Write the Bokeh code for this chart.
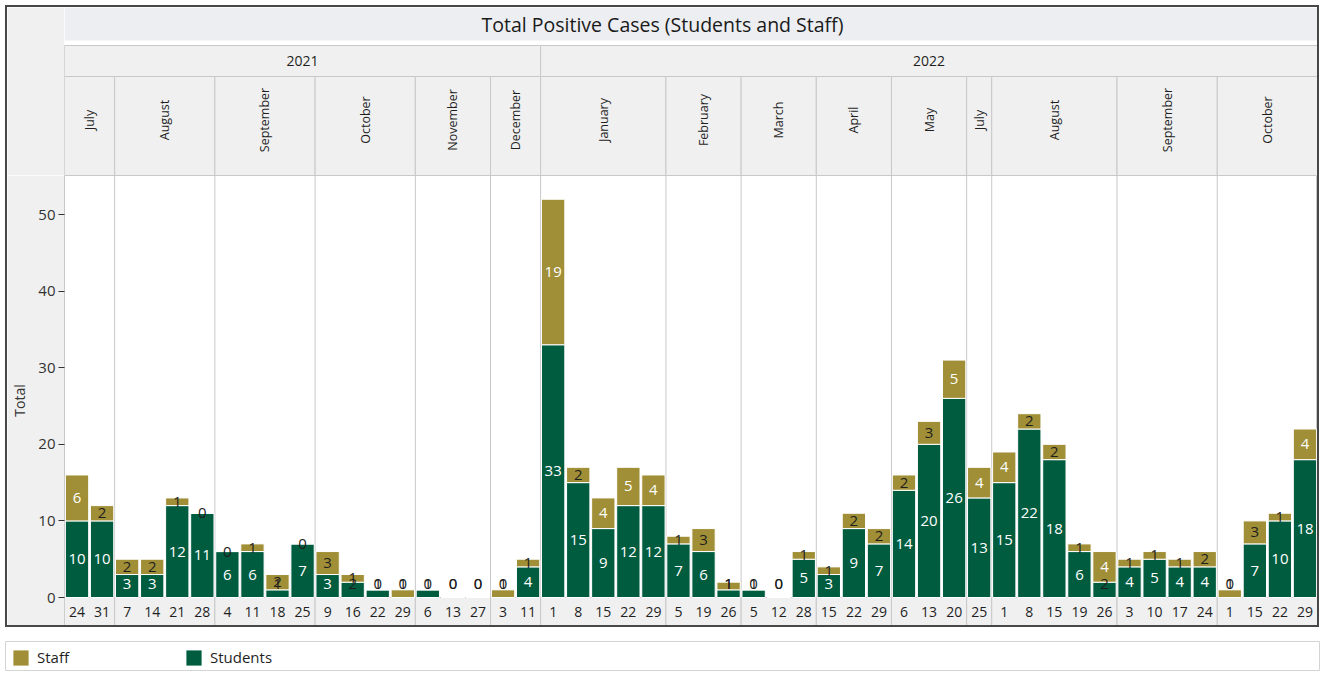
import math
from bokeh.plotting import figure
from bokeh.layouts import column
from bokeh.models import ColumnDataSource, Range1d, FixedTicker, Legend, LegendItem
from bokeh.core.properties import value
from bokeh.embed import file_html
from bokeh.resources import INLINE

# ---------------- data ----------------
title_text = "Total Positive Cases (Students and Staff)"
y_label = "Total"
y_ticks = [0, 10, 20, 30, 40, 50]
series_names = ["Staff", "Students"]
series_colors = {"Staff": "#a08f36", "Students": "#005c3f"}

years = ["2021"] * 19 + ["2022"] * 31
months = (["July"] * 2 + ["August"] * 4 + ["September"] * 4 + ["October"] * 4
          + ["November"] * 3 + ["December"] * 2
          + ["January"] * 5 + ["February"] * 3 + ["March"] * 3 + ["April"] * 3
          + ["May"] * 3 + ["July"] * 1 + ["August"] * 5 + ["September"] * 4
          + ["October"] * 4)
days = ["24", "31", "7", "14", "21", "28", "4", "11", "18", "25",
        "9", "16", "22", "29", "6", "13", "27", "3", "11",
        "1", "8", "15", "22", "29", "5", "19", "26", "5", "12", "28",
        "15", "22", "29", "6", "13", "20", "25", "1", "8", "15", "19", "26",
        "3", "10", "17", "24", "1", "15", "22", "29"]
students = [10, 10, 3, 3, 12, 11, 6, 6, 1, 7,
            3, 2, 1, 0, 1, 0, 0, 0, 4,
            33, 15, 9, 12, 12, 7, 6, 1, 1, 0, 5,
            3, 9, 7, 14, 20, 26, 13, 15, 22, 18, 6, 2,
            4, 5, 4, 4, 0, 7, 10, 18]
staff = [6, 2, 2, 2, 1, 0, 0, 1, 2, 0,
         3, 1, 0, 1, 0, 0, 0, 1, 1,
         19, 2, 4, 5, 4, 1, 3, 1, 0, 0, 1,
         1, 2, 2, 2, 3, 5, 4, 4, 2, 2, 1, 4,
         1, 1, 1, 2, 1, 3, 1, 4]
# smallest value whose label is drawn in white inside its segment
white_min = {"Students": 3, "Staff": 4}

# ---------------- layout constants ----------------
FONT = "Open Sans"
BORDER = 2
W = 1314
inner_w = W - 2 * BORDER
left_px = 57
n = len(days)

hdr_h = 168
plot_px = 422
day_px = 28
main_h = plot_px + day_px
y_top = 55.1
ppu = plot_px / y_top
y_start = -day_px / ppu
label_floor = 14 / ppu

GRID = "#c8c8c8"
CELL = "#f0f0f0"
TXT = "#1f1f1f"


def runs(keys):
    out = []
    s = 0
    for i in range(1, len(keys) + 1):
        if i == len(keys) or keys[i] != keys[s]:
            out.append((keys[s], s, i))
            s = i
    return out


year_runs = runs(years)
month_runs = runs(list(zip(years, months)))

# ---------------- header figure ----------------
hdr = figure(width=inner_w, height=hdr_h, x_range=Range1d(0, n), y_range=Range1d(0, hdr_h),
             toolbar_location=None, output_backend="svg",
             min_border_left=left_px, min_border_right=0, min_border_top=0, min_border_bottom=0,
             x_axis_location=None, y_axis_location=None, outline_line_color=None,
             background_fill_color="white", border_fill_color=CELL)
hdr.grid.visible = False

title_bottom = hdr_h - 33
year_top = title_bottom - 5
month_top = year_top - 31

hdr.quad(left=[0], right=[n], bottom=[title_bottom], top=[hdr_h], fill_color="#eceef1", line_color=None)
hdr.segment(x0=[0], y0=[0], x1=[0], y1=[year_top], line_color=GRID, line_width=2)
hdr.quad(left=[r[1] for r in year_runs], right=[r[2] for r in year_runs],
         bottom=month_top, top=year_top, fill_color=CELL, line_color=GRID, line_width=1)
hdr.quad(left=[r[1] for r in month_runs], right=[r[2] for r in month_runs],
         bottom=0, top=month_top, fill_color=CELL, line_color=GRID, line_width=1)
hdr.text(x=[n / 2], y=[(title_bottom + hdr_h) / 2], text=[title_text],
         text_font=value(FONT), text_font_size="19.5px", text_color="#1a1a1a",
         text_align="center", text_baseline="middle", x_offset=-left_px / 2)
hdr.text(x=[(r[1] + r[2]) / 2 for r in year_runs], y=(month_top + year_top) / 2,
         text=[r[0] for r in year_runs], text_font=value(FONT), text_font_size="14px",
         text_color=TXT, text_align="center", text_baseline="middle")
hdr.text(x=[(r[1] + r[2]) / 2 for r in month_runs], y=month_top / 2 + 6,
         text=[r[0][1] for r in month_runs], angle=math.pi / 2, text_font=value(FONT),
         text_font_size="12.5px", text_color=TXT, text_align="center", text_baseline="middle")

# ---------------- main figure ----------------
p = figure(width=inner_w, height=main_h, x_range=Range1d(0, n), y_range=Range1d(y_start, y_top),
           toolbar_location=None, output_backend="svg",
           min_border_left=left_px, min_border_right=0, min_border_top=0, min_border_bottom=0,
           x_axis_location=None, background_fill_color="white", border_fill_color=CELL,
           outline_line_color=GRID)
p.grid.visible = False

# month cells of the day row and separators
p.quad(left=[r[1] for r in month_runs], right=[r[2] for r in month_runs],
       bottom=y_start, top=0, fill_color=CELL, line_color=GRID, line_width=1)
seps = [r[1] for r in month_runs if r[1] > 0]
p.segment(x0=seps, y0=0, x1=seps, y1=y_top, line_color=GRID, line_width=1)

xs = [i + 0.5 for i in range(n)]
src = ColumnDataSource(dict(x=xs, Students=students, Staff=staff))
p.vbar_stack(["Students", "Staff"], x="x", width=0.93, source=src,
             fill_color=[series_colors["Students"], series_colors["Staff"]],
             line_color="white", line_width=1)

# value labels
lx, ly, lt, lc = [], [], [], []
for i in range(n):
    s, f = students[i], staff[i]
    for name, v, base in (("Students", s, 0), ("Staff", f, s)):
        lx.append(xs[i])
        ly.append(max(base + v / 2, label_floor))
        lt.append(str(v))
        lc.append("white" if v >= white_min[name] else "#1e1e1e")
p.text(x=lx, y=ly, text=lt, text_color=lc, text_font=value(FONT), text_font_size="15px",
       text_align="center", text_baseline="middle")

# day labels
p.text(x=xs, y=y_start / 2, text=days, text_font=value(FONT), text_font_size="14px",
       text_color=TXT, text_align="center", text_baseline="middle")

ya = p.yaxis[0]
ya.ticker = FixedTicker(ticks=y_ticks)
ya.axis_line_color = None
ya.major_tick_out = 6
ya.major_tick_in = 0
ya.major_tick_line_color = "#333333"
ya.minor_tick_line_color = None
ya.major_label_text_font = FONT
ya.major_label_text_font_size = "15px"
ya.major_label_text_color = "#333333"
ya.major_label_standoff = 3
ya.axis_label = y_label
ya.axis_label_text_font = FONT
ya.axis_label_text_font_size = "14px"
ya.axis_label_text_font_style = "normal"
ya.axis_label_text_color = "#333333"
ya.axis_label_standoff = 6

# ---------------- legend figure ----------------
leg = figure(width=W + 1, height=30, x_range=Range1d(0, 1), y_range=Range1d(0, 1),
             toolbar_location=None, output_backend="svg", min_border=0,
             x_axis_location=None, y_axis_location=None, outline_line_color="#d4d4d4",
             background_fill_color="white", border_fill_color="white")
leg.grid.visible = False
items = []
for name in series_names:
    r = leg.vbar(x=[-5], bottom=[-5], top=[-4], width=0.1,
                 fill_color=series_colors[name], line_color=None)
    items.append(LegendItem(label=name, renderers=[r]))
legend = Legend(items=items, orientation="horizontal", location="top_left",
                glyph_width=19, glyph_height=19, label_height=19, label_standoff=7,
                label_width=147, spacing=0, padding=0, margin=6,
                border_line_color=None, background_fill_alpha=0,
                label_text_font=FONT, label_text_font_size="15px", label_text_color=TXT)
leg.add_layout(legend)

box = column(hdr, p, spacing=0, styles={"border": f"{BORDER}px solid #474747"})
page = column(box, leg, spacing=14, margin=(5, 0, 0, 5))

open("out.html", "w").write(file_html(page, INLINE))
